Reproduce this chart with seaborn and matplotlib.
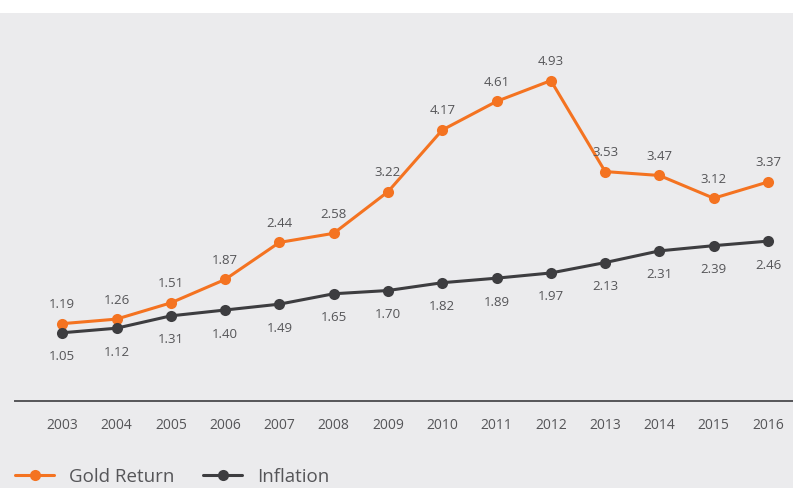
import matplotlib
matplotlib.use("Agg")
import matplotlib.pyplot as plt
from matplotlib.patches import Rectangle
import seaborn as sns
import pandas as pd

years = [2003, 2004, 2005, 2006, 2007, 2008, 2009, 2010, 2011, 2012, 2013, 2014, 2015, 2016]
gold_return = [1.19, 1.26, 1.51, 1.87, 2.44, 2.58, 3.22, 4.17, 4.61, 4.93, 3.53, 3.47, 3.12, 3.37]
inflation = [1.05, 1.12, 1.31, 1.40, 1.49, 1.65, 1.70, 1.82, 1.89, 1.97, 2.13, 2.31, 2.39, 2.46]
series_names = ["Gold Return", "Inflation"]

BG = "#ebebed"
ORANGE = "#f47321"
DARK = "#3d3d40"
TEXT = "#555558"

sns.set_style("white")
plt.rcParams["font.family"] = ["Open Sans", "DejaVu Sans"]

df = pd.DataFrame({
    "Year": years * 2,
    "Value": gold_return + inflation,
    "Series": [series_names[0]] * len(years) + [series_names[1]] * len(years),
})

fig = plt.figure(figsize=(7.93, 4.88), dpi=100, facecolor=BG)
ax = fig.add_axes([15 / 793, 1 - 401 / 488, 1 - 15 / 793, (401 - 13) / 488])
ax.set_facecolor(BG)
fig.add_artist(Rectangle((0, 1 - 13 / 488), 1, 13 / 488, transform=fig.transFigure,
                         facecolor="white", edgecolor="none", zorder=-1))

sns.lineplot(data=df, x="Year", y="Value", hue="Series", palette=[ORANGE, DARK],
             marker="o", markersize=8, markeredgewidth=0, linewidth=2.2, ax=ax, legend=False)

ax.set_xlim(2002.13, 2016.46)
ax.set_ylim(0, 5.97)
ax.set_xticks(years)
ax.set_xticklabels([str(y) for y in years])
ax.set_yticks([])
ax.set_xlabel("")
ax.set_ylabel("")
for s in ["top", "right", "left"]:
    ax.spines[s].set_visible(False)
ax.spines["bottom"].set_color(TEXT)
ax.spines["bottom"].set_linewidth(1.4)
ax.tick_params(axis="x", length=0, pad=12, labelsize=10, labelcolor=TEXT)

for x, g, i in zip(years, gold_return, inflation):
    ax.annotate(f"{g:.2f}", (x, g), xytext=(0, 19), textcoords="offset pixels",
                ha="center", va="center", fontsize=9.5, color=TEXT)
    ax.annotate(f"{i:.2f}", (x, i), xytext=(0, -24), textcoords="offset pixels",
                ha="center", va="center", fontsize=9.5, color=TEXT)

handles = [plt.Line2D([], [], color=c, marker="o", markersize=8, markeredgewidth=0, linewidth=2.2)
           for c in (ORANGE, DARK)]
leg = fig.legend(handles, series_names, loc="center left", bbox_to_anchor=(15 / 793, 1 - 477 / 488),
                 ncol=2, frameon=False, fontsize=13.5, labelcolor=TEXT, handlelength=2.1,
                 handletextpad=0.8, columnspacing=1.5, borderpad=0, borderaxespad=0)

fig.savefig("out.png", dpi=100, facecolor=BG)
